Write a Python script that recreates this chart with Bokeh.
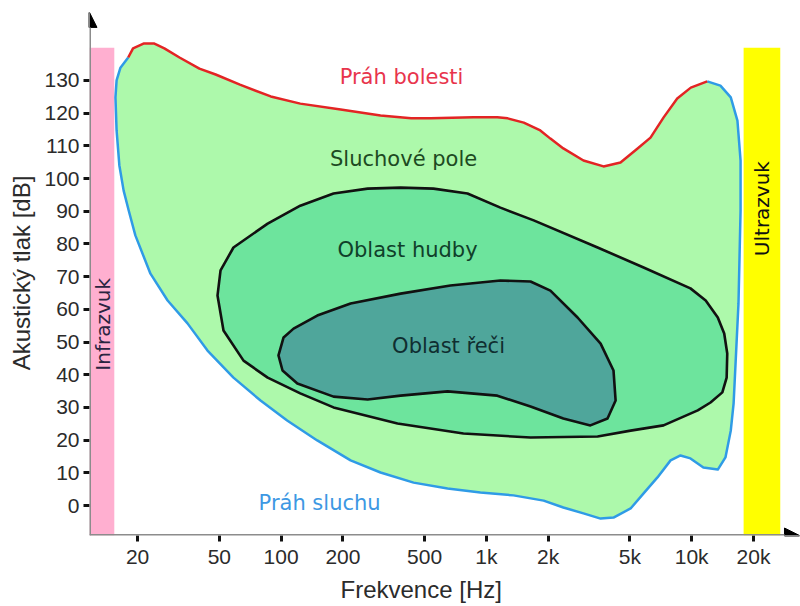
from bokeh.plotting import figure
from bokeh.models import Range1d, FixedTicker, Arrow, NormalHead, Title
from bokeh.embed import file_html
from bokeh.resources import INLINE
from bokeh.core.properties import value
import math

# ---- data (frequency in Hz, level in dB) ----
pain_freq = [18, 19, 21.5, 24, 27, 32, 40, 48, 63, 89, 124, 195, 305, 430, 535, 865,
             1130, 1270, 1520, 1830, 2050, 2370, 2970, 3720, 4500, 5450, 6300, 7300,
             8500, 9900, 11900]
pain_db = [137, 139.8, 141.3, 141.3, 139.8, 137, 133.6, 131.8, 128.7, 125.1, 122.9,
           121.1, 119.3, 118.4, 118.4, 118.7, 118.7, 118.4, 117.1, 114.7, 112.2, 109.2,
           105.5, 103.7, 104.9, 109.2, 112.5, 118.7, 124.5, 127.8, 129.7]

hear_freq = [18, 16.5, 15.8, 15.6, 15.8, 16.3, 17.1, 18.1, 19.5, 23.1, 28, 35, 43.8,
             58.6, 79.4, 107, 150, 218, 305, 442, 647, 935, 1355, 1900, 2370, 2970,
             3600, 4160, 5040, 5830, 6810, 7890, 8820, 9860, 11400, 13400, 14600,
             15500, 16000, 16900, 17300, 17300, 16700, 15500, 13800, 11900]
hear_db = [137, 133.9, 130, 124.8, 114.7, 104, 96.3, 90.2, 82.6, 70.9, 62.7, 55.7, 47.4,
           39.1, 32.1, 26, 19.9, 13.8, 10.1, 7, 5.2, 4, 3.1, 1.5, -0.6, -2.4, -4, -3.7,
           -0.9, 3.7, 8.6, 13.8, 15.3, 14.4, 11.6, 11, 14.7, 22.9, 31.2, 61.8, 90.2,
           105.5, 117.7, 124.8, 128.4, 129.7]

music_freq = [49, 50.7, 58.6, 86, 124, 180, 264, 382, 552, 809, 1170, 1700, 3480, 5830,
              9860, 11700, 13400, 14400, 14900, 14800, 14100, 12350, 10700, 7290, 5040,
              3480, 1640, 773, 369, 180, 124, 86, 65.6, 52.4]
music_db = [64.2, 71.9, 78.9, 86.2, 91.7, 95.4, 96.9, 97.2, 96.9, 95.4, 91.1, 87.2, 78.9,
            72.8, 66.4, 62.7, 57.5, 52.6, 46.5, 39.1, 34.6, 31.5, 29.1, 24.5, 22.9, 21.1,
            20.8, 22.0, 25.1, 30.0, 34.3, 39.1, 44.3, 53.5]

speech_freq = [97.1, 102.8, 115, 150, 218, 382, 668, 1170, 1640, 2050, 2780, 3600, 4160,
               4260, 3890, 3210, 2370, 1640, 1130, 647, 382, 264, 180, 120, 101.6]
speech_db = [45.9, 51.4, 54.1, 58.1, 61.8, 64.8, 67.3, 68.8, 68.5, 65.7, 57.5, 49.5, 41.3,
             32.1, 26.6, 24.5, 26.6, 30.3, 33.6, 34.9, 33.6, 32.4, 33.3, 37.3, 41.3]

infra_max = 15.4          # Hz
ultra_min, ultra_max = 17900, 27000
band_top = 140

x_ticks = [20, 50, 100, 200, 500, 1000, 2000, 5000, 10000, 20000]
x_tick_labels = ["20", "50", "100", "200", "500", "1k", "2k", "5k", "10k", "20k"]
y_ticks = [0, 10, 20, 30, 40, 50, 60, 70, 80, 90, 100, 110, 120, 130]

label_text = ["Práh bolesti", "Sluchové pole", "Oblast hudby", "Oblast řeči", "Práh sluchu"]
label_freq = [386, 395, 413, 654, 154]
label_db = [130.9, 106.1, 78.0, 48.9, 0.9]
label_color = ["#e8344c", "#1d4a22", "#10402a", "#0f2e30", "#3d98e3"]

# ---- figure ----
X_MIN, X_MAX = 11.66, 33880
Y_MIN, Y_MAX = -9.17, 151.38

p = figure(width=800, height=606, x_axis_type="log",
           x_range=Range1d(X_MIN, X_MAX), y_range=Range1d(Y_MIN, Y_MAX),
           output_backend="svg", toolbar_location=None,
           min_border_left=89, min_border_right=0, min_border_top=10, min_border_bottom=71)
p.outline_line_color = None
p.grid.visible = False
p.background_fill_color = "white"

# bands
p.quad(left=[X_MIN], right=[infra_max], bottom=[Y_MIN], top=[band_top],
       fill_color="#ffafd0", line_color=None)
p.quad(left=[ultra_min], right=[ultra_max], bottom=[Y_MIN], top=[band_top],
       fill_color="#ffff00", line_color=None)

# hearing field
p.patch(pain_freq + hear_freq[::-1], pain_db + hear_db[::-1],
        fill_color="#adf9ab", line_color=None)
p.line(hear_freq, hear_db, line_color="#2f9be6", line_width=2.5, line_join="round")
p.line(pain_freq, pain_db, line_color="#e32424", line_width=2.5, line_join="round")

# music & speech
p.patch(music_freq, music_db, fill_color="#6de49d", line_color="#111111",
        line_width=2.6, line_join="round")
p.patch(speech_freq, speech_db, fill_color="#4fa69b", line_color="#111111",
        line_width=2.6, line_join="round")

# labels
p.text(x=label_freq, y=label_db, text=label_text, text_color=label_color,
       text_font=value("DejaVu Sans"), text_font_size="21px",
       text_align="center", text_baseline="middle")
p.text(x=[13.6], y=[55.4], text=["Infrazvuk"], text_color="#2a2440",
       text_font=value("DejaVu Sans"), text_font_size="20px", angle=math.pi / 2,
       text_align="center", text_baseline="middle")
p.text(x=[21900], y=[90.8], text=["Ultrazvuk"], text_color="#111111",
       text_font=value("DejaVu Sans"), text_font_size="20px", angle=math.pi / 2,
       text_align="center", text_baseline="middle")

# axes
for ax in (p.xaxis[0], p.yaxis[0]):
    ax.axis_line_color = None
    ax.major_tick_line_color = "#111111"
    ax.major_tick_line_width = 3
    ax.major_tick_out = 6
    ax.major_tick_in = 0
    ax.minor_tick_line_color = None
    ax.major_label_text_font = "Liberation Sans"
    ax.major_label_text_font_size = "21px"
    ax.major_label_text_color = "#2b2b2b"
    ax.major_label_standoff = 4

p.xaxis.ticker = FixedTicker(ticks=x_ticks, minor_ticks=[])
p.xaxis.major_label_overrides = {t: l for t, l in zip(x_ticks, x_tick_labels)}
p.xaxis.major_label_standoff = 3
p.yaxis.ticker = FixedTicker(ticks=y_ticks, minor_ticks=[])

p.yaxis.axis_label = "Akustický tlak [dB]"
p.yaxis.axis_label_text_font = "Liberation Sans"
p.yaxis.axis_label_text_font_size = "24px"
p.yaxis.axis_label_text_font_style = "normal"
p.yaxis.axis_label_text_color = "#2b2b2b"
p.yaxis.axis_label_standoff = 6

p.add_layout(Title(text="Frekvence [Hz]", align="left", offset=251,
                   text_font="Liberation Sans", text_font_size="24px",
                   text_font_style="normal", text_color="#2b2b2b", standoff=6), "below")

# axis arrows
p.add_layout(Arrow(end=NormalHead(size=15, fill_color="black", line_color="black"),
                   x_start=X_MIN, y_start=Y_MIN, x_end=X_MIN, y_end=150.8,
                   line_color="#8c8c8c", line_width=3))
p.add_layout(Arrow(end=NormalHead(size=15, fill_color="black", line_color="black"),
                   x_start=X_MIN, y_start=Y_MIN, x_end=33500, y_end=Y_MIN,
                   line_color="#8c8c8c", line_width=3))

open("out.html", "w").write(file_html(p, INLINE))
